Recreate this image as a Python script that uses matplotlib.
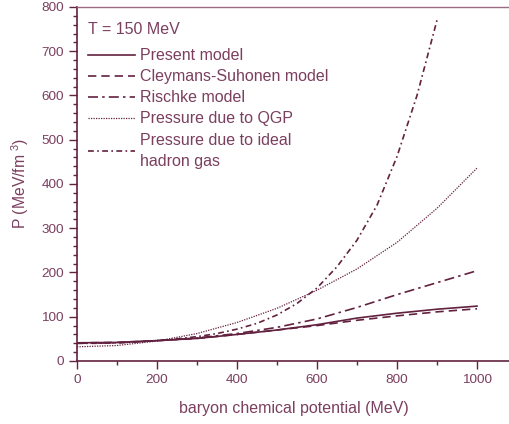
import matplotlib
matplotlib.use("Agg")
import matplotlib.pyplot as plt
from matplotlib.ticker import MultipleLocator

plt.rcParams['font.family'] = ['Liberation Sans', 'DejaVu Sans']
plt.rcParams['mathtext.fontset'] = 'custom'
plt.rcParams['mathtext.rm'] = 'Liberation Sans'

mu = [0, 100, 200, 300, 400, 500, 600, 700, 800, 900, 1000]
present = [41, 42, 46, 51, 60, 70, 82, 97, 108, 117, 124]
cleymans = [41, 42, 46, 51, 60, 70, 80, 92, 102, 111, 118]
rischke = [40, 41, 46, 52, 62, 76, 95, 121, 150, 177, 204]
qgp = [32, 35, 45, 62, 87, 119, 160, 208, 268, 345, 436]
mu_h = [0, 50, 100, 150, 200, 250, 300, 350, 400, 450, 500, 550, 600, 650, 700, 750, 800, 850, 900]
hadron = [40, 40, 41, 43, 46, 50, 55, 62, 72, 85, 104, 130, 165, 213, 273, 352, 462, 600, 770]

labels = ["Present model", "Cleymans-Suhonen model", "Rischke model",
          "Pressure due to QGP", "Pressure due to ideal\nhadron gas"]
title = "T = 150 MeV"
xlabel = "baryon chemical potential (MeV)"
ylabel = "P (MeV/fm$^{\\ 3}$)"

lc = '#62213f'
tc = '#7b3f5f'

fig = plt.figure(figsize=(5.1, 4.24), dpi=100)
ax = fig.add_axes([0.151, 0.1486, 0.849, 0.835])

ax.plot(mu, present, color=lc, lw=1.2, linestyle='-', label=labels[0])
ax.plot(mu, cleymans, color=lc, lw=1.2, linestyle=(0, (5, 3)), label=labels[1])
ax.plot(mu, rischke, color=lc, lw=1.2, linestyle=(0, (6, 2.5, 1.5, 2.5)), label=labels[2])
ax.plot(mu, qgp, color=lc, lw=0.9, linestyle=(0, (1, 1)), label=labels[3])
ax.plot(mu_h, hadron, color=lc, lw=1.2, linestyle=(0, (3.5, 2, 1, 2)), label=labels[4])

ax.set_xlim(0, 1082.5)
ax.set_ylim(0, 800)
ax.xaxis.set_major_locator(MultipleLocator(200))
ax.xaxis.set_minor_locator(MultipleLocator(100))
ax.yaxis.set_major_locator(MultipleLocator(100))
ax.yaxis.set_minor_locator(MultipleLocator(20))
ax.set_xticks([0, 200, 400, 600, 800, 1000])

ax.tick_params(which='major', direction='out', length=5.5, width=1, color=lc,
               labelcolor=tc, labelsize=9.7, top=False, right=False, pad=4)
ax.tick_params(which='minor', direction='out', length=3.2, width=1, color=lc,
               top=False, right=False)

for s in ['left', 'bottom']:
    ax.spines[s].set_color(lc)
    ax.spines[s].set_linewidth(1.2)
ax.spines['top'].set_color('#9a6a82')
ax.spines['top'].set_linewidth(1.0)
ax.spines['right'].set_visible(False)

ax.set_xlabel(xlabel, color=tc, fontsize=11.5, labelpad=11)
ax.set_ylabel(ylabel, color=tc, fontsize=11.3, labelpad=7)

ax.text(0.025, 0.958, title, transform=ax.transAxes, color=tc, fontsize=11.5,
        va='top', ha='left')

leg = ax.legend(loc='upper left', bbox_to_anchor=(0.0, 0.915), frameon=False,
                fontsize=11.5, handlelength=2.9, handletextpad=0.35,
                labelspacing=0.38, borderaxespad=0.3)
for t in leg.get_texts():
    t.set_color(tc)
    t.set_linespacing(1.55)

fig.savefig("out.png", dpi=100)
